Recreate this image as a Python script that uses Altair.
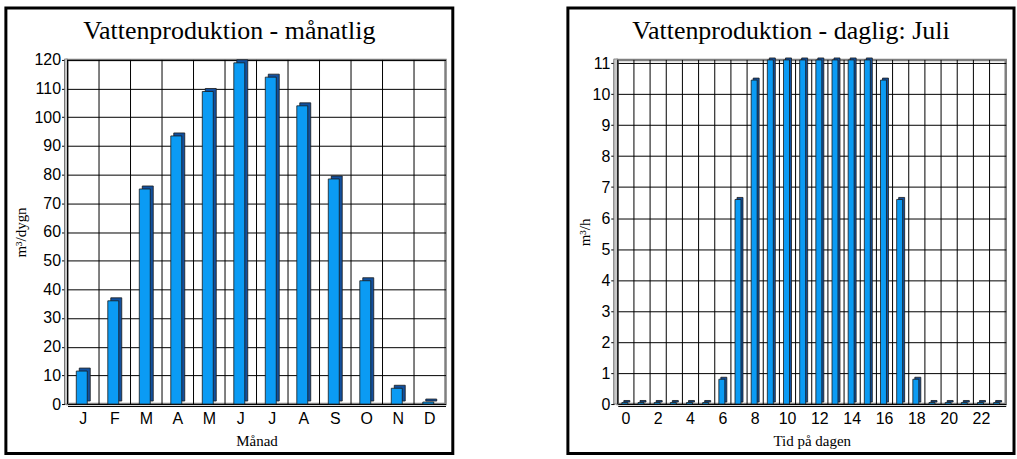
import altair as alt
import pandas as pd

# ---------------- data ----------------
months = ["J", "F", "M", "A", "M", "J", "J", "A", "S", "O", "N", "D"]
month_idx = [0, 1, 2, 3, 4, 5, 6, 7, 8, 9, 10, 11]
monthly_m3 = [11.5, 36, 75, 93.5, 109, 119, 114, 104, 78.5, 43, 5.5, 0.7]

hours = [0, 1, 2, 3, 4, 5, 6, 7, 8, 9, 10, 11, 12, 13, 14, 15, 16, 17, 18, 19, 20, 21, 22, 23]
hourly_m3 = [0.05, 0.05, 0.05, 0.05, 0.05, 0.05, 0.8, 6.6, 10.45, 11.1, 11.1, 11.1,
             11.1, 11.1, 11.1, 11.1, 10.45, 6.6, 0.8, 0.05, 0.05, 0.05, 0.05, 0.05]

y_ticks_month = [0, 10, 20, 30, 40, 50, 60, 70, 80, 90, 100, 110, 120]
y_ticks_hour = [0, 1, 2, 3, 4, 5, 6, 7, 8, 9, 10, 11]
x_ticks_hour = [0, 2, 4, 6, 8, 10, 12, 14, 16, 18, 20, 22]

df_m = pd.DataFrame({"idx": month_idx, "month": months, "value": monthly_m3})
df_h = pd.DataFrame({"hour": hours, "value": hourly_m3})

BLUE = "#0B9BF4"
DARK = "#12509E"
EDGE = "#1a1a1a"
SANS = "Liberation Sans"
SERIF = "Liberation Serif"

H = 345


def panel(df, xfield, width, ydomain, yticks, xaxis_extra, ytitle, xtitle,
          title, title_cx, bar_w, side, frame_x, yoff, ytitle_pad):
    xaxis = alt.Axis(title=xtitle, labelAngle=0, ticks=False, domainColor="black",
                     offset=2, labelPadding=5, labelFont=SANS, labelFontSize=16,
                     labelColor="black", titleFont=SERIF, titleFontSize=15,
                     titleFontWeight="normal", titleColor="black", titlePadding=7,
                     grid=False, **xaxis_extra)
    yaxis = alt.Axis(title=ytitle, values=yticks, grid=True, gridColor="black",
                     gridWidth=1, gridOpacity=1, domainColor="black", tickColor="black",
                     tickSize=3, offset=yoff, labelPadding=1, labelFont=SANS,
                     labelFontSize=16, labelColor="black", titleFont=SERIF,
                     titleFontSize=15, titleFontWeight="normal", titleColor="black",
                     titlePadding=ytitle_pad)
    xscale = alt.Scale(paddingInner=0, paddingOuter=0)
    yscale = alt.Scale(domain=ydomain, nice=False)

    one = pd.DataFrame({"k": [0]})
    frame = alt.Chart(one).mark_rect(fillOpacity=0, stroke="black", strokeWidth=3).encode(
        x=alt.value(frame_x[0]), x2=alt.value(frame_x[1]),
        y=alt.value(-52), y2=alt.value(394.5))
    head = alt.Chart(one).mark_text(font=SERIF, fontSize=26, color="black",
                                    align="center", baseline="alphabetic").encode(
        x=alt.value(title_cx), y=alt.value(-21), text=alt.value(title))
    wall = alt.Chart(one).mark_rect(fill="#c8c8c8", stroke="#555555", strokeWidth=0.6).encode(
        x=alt.value(-yoff), x2=alt.value(0), y=alt.value(-1), y2=alt.value(H))
    vgrid = alt.Chart(df).mark_rule(color="black", strokeWidth=1).encode(
        x=alt.X(f"{xfield}:O", bandPosition=0, axis=xaxis, scale=xscale))
    back = alt.Chart(df).mark_bar(width=bar_w, xOffset=side / 2, yOffset=-side,
                                  fill=DARK, stroke=EDGE, strokeWidth=0.8).encode(
        x=alt.X(f"{xfield}:O", axis=xaxis, scale=xscale),
        y=alt.Y("value:Q", axis=yaxis, scale=yscale))
    front = alt.Chart(df).mark_bar(width=bar_w, xOffset=-side / 2,
                                   fill=BLUE, stroke=EDGE, strokeWidth=0.8).encode(
        x=alt.X(f"{xfield}:O", axis=xaxis, scale=xscale),
        y=alt.Y("value:Q", axis=yaxis, scale=yscale))
    return alt.layer(frame, head, wall, vgrid, back, front).properties(
        width=width, height=H)


label_arr = "[" + ",".join("'" + m + "'" for m in months) + "]"

left = panel(df_m, "idx", 379, [0, 120], y_ticks_month,
             {"labelExpr": label_arr + "[datum.value]"},
             "m³/dygn", "Månad", "Vattenproduktion - månatlig", 162.2,
             11, 3, (-61.8, 386.3), 3, 5)
right = panel(df_h, "hour", 389, [0, 11.1], y_ticks_hour,
              {"values": x_ticks_hour},
              "m³/h", "Tid på dagen", "Vattenproduktion - daglig: Juli", 173.6,
              6, 2, (-50, 397.3), 4, 0)

chart = alt.hconcat(left, right, spacing=108.7).properties(
    padding={"left": 2.7, "top": 4.5, "right": 0, "bottom": 0},
    background="white",
).configure_view(stroke="#7f7f7f", strokeWidth=2.5)

chart.save("out.html", embed_options={"renderer": "svg", "actions": False})
